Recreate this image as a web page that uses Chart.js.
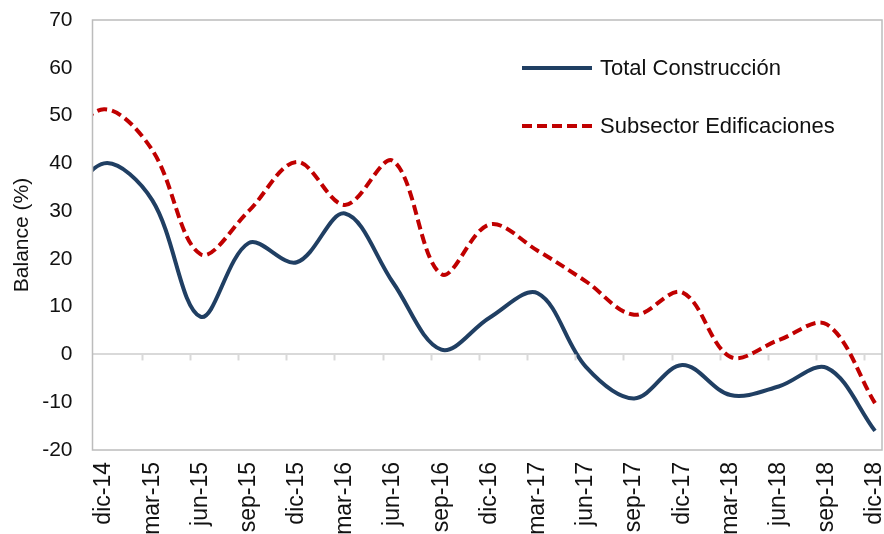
<!DOCTYPE html>
<html>
<head>
<meta charset="utf-8">
<title>Balance construcción</title>
<script src="https://cdn.jsdelivr.net/npm/chart.js@4.4.1/dist/chart.umd.min.js"></script>
<style>
  body { margin: 0; background: #fff; }
  .wrap { position: relative; width: 884px; height: 534px; overflow: hidden; }
  #legend {
    position: absolute; left: 522px; top: 50px;
    font: 22px "Liberation Sans", Arial, sans-serif; color: #111;
  }
  #legend .item { display: flex; align-items: center; height: 36px; margin-bottom: 22px; }
  #legend svg { margin-right: 8px; }
</style>
</head>
<body>
<div class="wrap">
  <canvas id="chart" width="884" height="534"></canvas>
  <div id="legend"></div>
</div>
<script>
  const categories = ['dic-14', 'mar-15', 'jun-15', 'sep-15', 'dic-15', 'mar-16', 'jun-16', 'sep-16', 'dic-16',
    'mar-17', 'jun-17', 'sep-17', 'dic-17', 'mar-18', 'jun-18', 'sep-18', 'dic-18'];
  const totalConstruccion = [40.0, 32.3, 7.9, 23.3, 19.3, 29.5, 15.0, 1.0, 7.7, 12.8, -2.6, -9.2, -2.2, -8.5, -6.7, -2.8, -16.0];
  const subsectorEdificaciones = [51.3, 42.8, 21.0, 30.0, 40.3, 31.3, 40.5, 16.8, 27.2, 21.7, 15.3, 8.3, 13.0, -0.5, 3.0, 6.3, -10.2];
  // previous quarter (sep-14): only the tail of the curve shows at the left edge
  const priorTotal = 28;
  const priorEdificaciones = 42;
  const yTicks = { min: -20, max: 70, step: 10 };

  const FONT = '"Liberation Sans", Arial, sans-serif';

  function toPoints(prior, values) {
    return [{ x: -1, y: prior }].concat(values.map((v, i) => ({ x: i, y: v })));
  }

  // box around the plot + little marks hanging under the zero line
  const framePlugin = {
    id: 'frame',
    afterDatasetsDraw(chart) {
      const { ctx, chartArea: a, scales } = chart;
      ctx.save();
      const y0 = scales.y.getPixelForValue(0);
      ctx.strokeStyle = '#d9d9d9';
      ctx.lineWidth = 2;
      for (let k = 1; k < categories.length; k++) {
        const x = Math.round(scales.x.getPixelForValue(k - 0.22)) + 0.5;
        ctx.beginPath();
        ctx.moveTo(x, y0);
        ctx.lineTo(x, y0 + 6);
        ctx.stroke();
      }
      ctx.strokeStyle = '#bcbcbc';
      ctx.lineWidth = 1.5;
      ctx.strokeRect(a.left, a.top, a.right - a.left, a.bottom - a.top);
      ctx.restore();
    }
  };

  const chart = new Chart(document.getElementById('chart'), {
    type: 'line',
    data: {
      datasets: [{
        label: 'Total Construcción',
        data: toPoints(priorTotal, totalConstruccion),
        borderColor: '#203f63',
        borderWidth: 4,
        tension: 0.35,
        clip: 0
      }, {
        label: 'Subsector Edificaciones',
        data: toPoints(priorEdificaciones, subsectorEdificaciones),
        borderColor: '#c00000',
        borderWidth: 4,
        borderDash: [10, 5],
        tension: 0.35,
        clip: 0
      }]
    },
    options: {
      responsive: false,
      animation: false,
      layout: { padding: { top: 20, right: 2, left: 0, bottom: 0 } },
      elements: { point: { radius: 0 }, line: { capBezierPoints: false } },
      plugins: { legend: { display: false }, tooltip: { enabled: false } },
      scales: {
        x: {
          type: 'linear',
          min: -0.239,
          max: 16.145,
          grid: { display: false },
          border: { display: false },
          afterFit: s => {
            s.height = 84;
            s.paddingLeft = 0;
            s.paddingRight = 0;
          },
          ticks: {
            stepSize: 1,
            includeBounds: false,
            autoSkip: false,
            minRotation: 90,
            maxRotation: 90,
            padding: 4,
            color: '#111',
            font: { family: FONT, size: 23 },
            callback: v => categories[v] ?? ''
          }
        },
        y: {
          min: yTicks.min,
          max: yTicks.max,
          afterFit: s => {
            s.width = 92.5;
            s.paddingTop = 0;
            s.paddingBottom = 0;
          },
          border: { display: false },
          grid: {
            drawTicks: false,
            lineWidth: 2,
            color: ctx => ctx.tick && ctx.tick.value === 0 ? '#d9d9d9' : 'rgba(0,0,0,0)'
          },
          ticks: {
            stepSize: yTicks.step,
            padding: 20,
            color: '#111',
            font: { family: FONT, size: 21 }
          },
          title: {
            display: true,
            text: 'Balance (%)',
            color: '#111',
            font: { family: FONT, size: 21 },
            padding: { top: 10, bottom: 0 }
          }
        }
      }
    },
    plugins: [framePlugin]
  });

  // legend as html, built from the datasets
  const legend = document.getElementById('legend');
  chart.data.datasets.forEach(ds => {
    const item = document.createElement('div');
    item.className = 'item';
    const dash = ds.borderDash ? ds.borderDash.join(' ') : 'none';
    item.innerHTML = `<svg width="70" height="8"><line x1="0" y1="4" x2="70" y2="4" stroke="${ds.borderColor}"
      stroke-width="4" stroke-dasharray="${dash}"/></svg><span>${ds.label}</span>`;
    legend.appendChild(item);
  });
</script>
</body>
</html>
